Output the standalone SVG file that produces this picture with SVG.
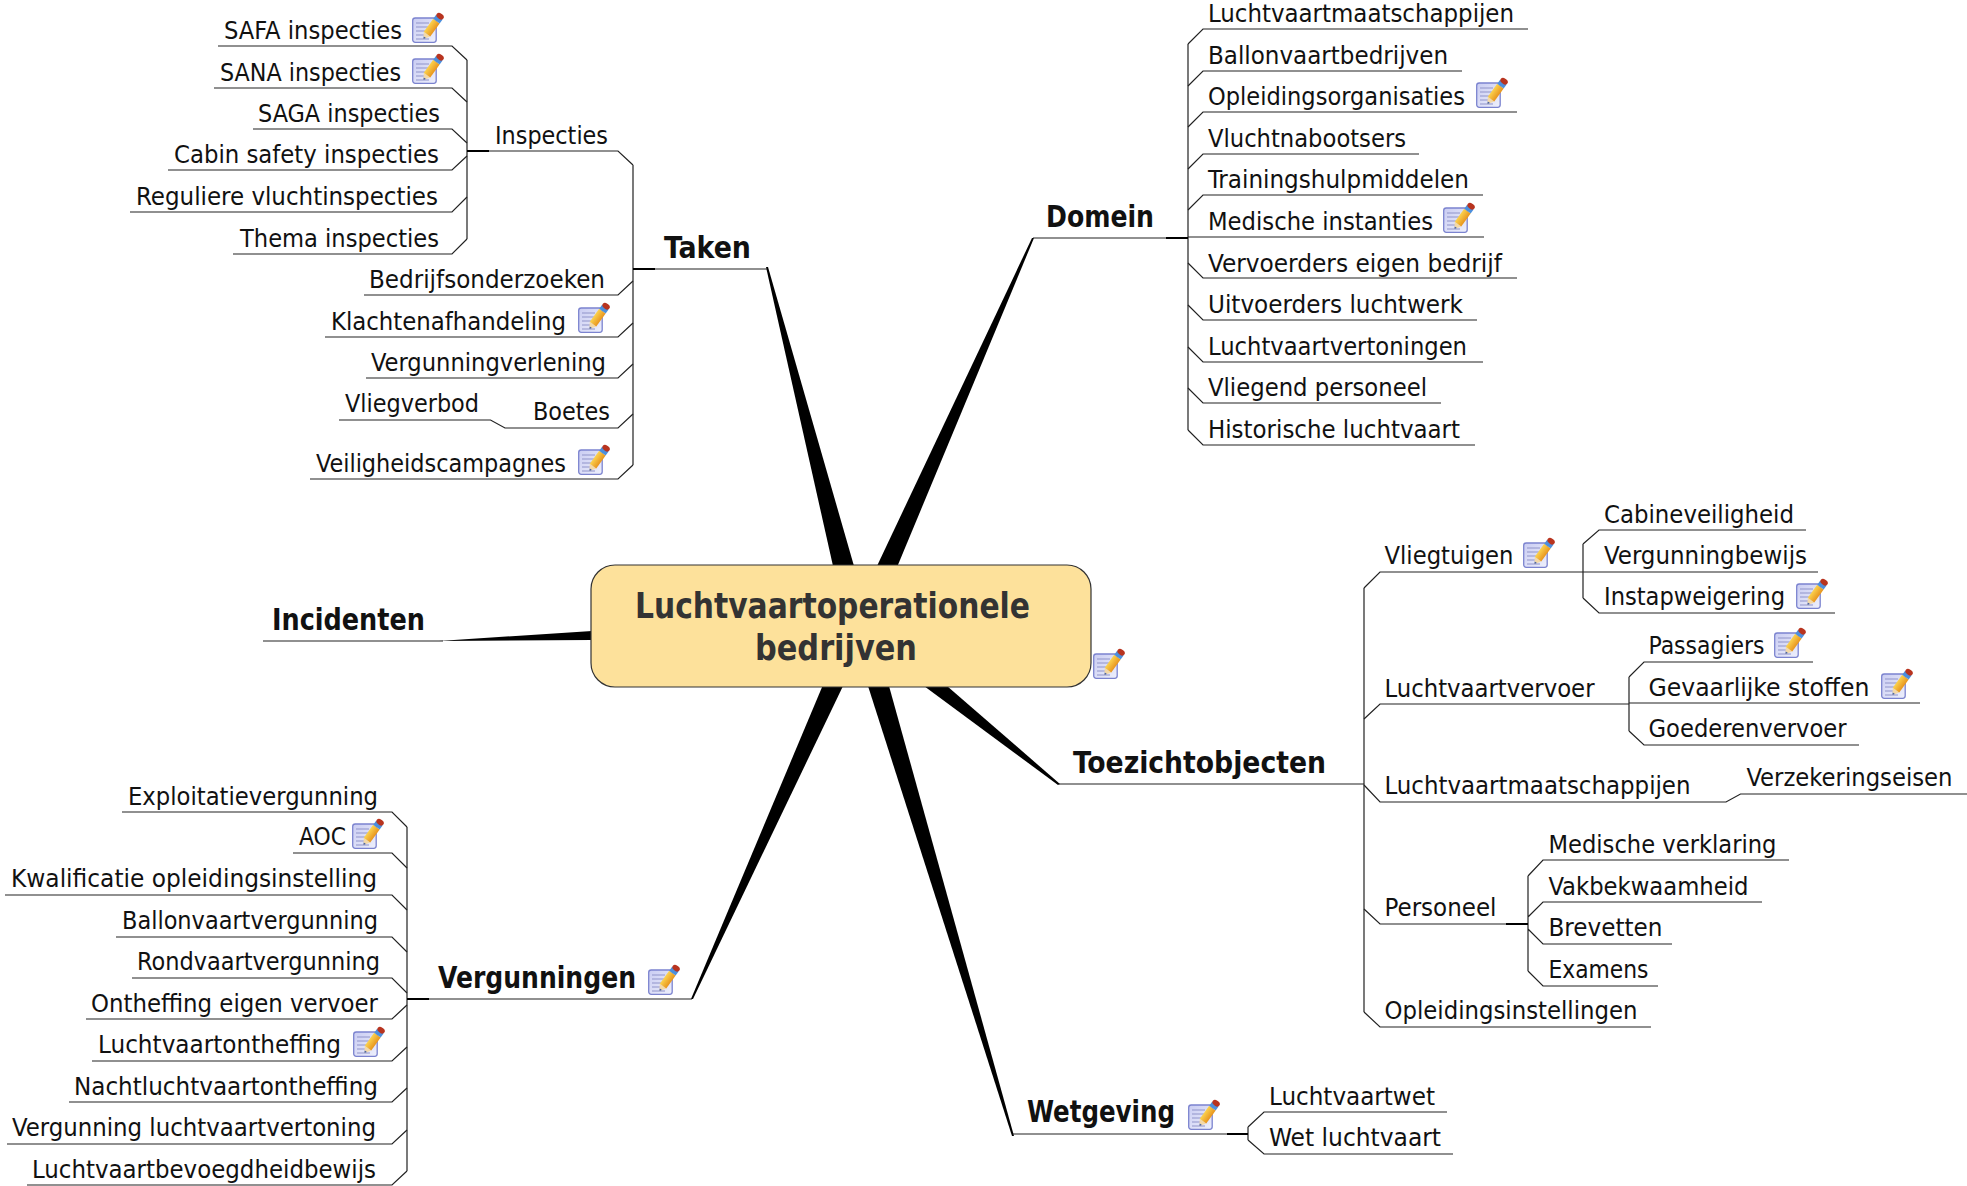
<svg xmlns="http://www.w3.org/2000/svg" width="1967" height="1186" viewBox="0 0 1967 1186">
<style>
text{font-family:"DejaVu Sans","Liberation Sans",sans-serif;font-stretch:condensed;fill:#111}
.r{font-size:25px}
.b{font-size:30.5px;font-weight:bold}
.m{font-size:36px;font-weight:bold;fill:#333}
.c{fill:none;stroke:#222;stroke-width:1.2}
.k{fill:none;stroke:#000;stroke-width:2}
.s{fill:#000;stroke:none}
.box{fill:#fde19b;stroke:#333;stroke-width:1.2}
</style>
<defs>
<linearGradient id="docg" x1="0" y1="0" x2="1" y2="1"><stop offset="0" stop-color="#c9ccf2"/><stop offset="1" stop-color="#eef0fc"/></linearGradient>
<linearGradient id="peng" x1="0" y1="0" x2="1" y2="0"><stop offset="0" stop-color="#fbd24e"/><stop offset="1" stop-color="#e8951e"/></linearGradient>
<symbol id="note" width="33" height="31" viewBox="0 0 33 31">
<rect x="0.7" y="6" width="23.5" height="24.3" rx="2.5" fill="url(#docg)" stroke="#7b83cf" stroke-width="1.3"/>
<path d="M4 11H17M4 15H16M4 19H14M4 23H13M4 27H17" fill="none" stroke="#8f94c9" stroke-width="1.2"/>
<g transform="translate(11.5 27) rotate(36)">
<polygon points="0,0 -4,-6 4,-6" fill="#f3d9a8"/>
<polygon points="0,0 -1.4,-2.2 1.4,-2.2" fill="#3a5aa8"/>
<rect x="-4" y="-22" width="8" height="16" fill="url(#peng)"/>
<rect x="-4" y="-27" width="8" height="5" fill="#4c8fdc"/>
<rect x="-4" y="-31" width="8" height="5.5" rx="3.5" fill="#b8341f"/>
</g>
</symbol>
</defs>
<rect width="1967" height="1186" fill="#fff"/>
<g id="connectors">
<polygon class="s" points="766,267 768,267 854,566 833,566"/>
<polygon class="s" points="1032,238 1034,238 897.5,566 877,566"/>
<polygon class="s" points="439,641 592,631 592,640"/>
<polygon class="s" points="691,999 693,999 843,686 822.5,686"/>
<polygon class="s" points="1012,1136 1014,1136 889,686 868,686"/>
<polygon class="s" points="1058,785 1060,784 947,686 924,686"/>
<path class="c" d="M767 269H633M633 165V465M467 151H618L633 165M467 60V239"/>
<path class="k" d="M633 269H655M467 151H489"/>
<path class="c" d="M218 46H452L467 60M214 88H452L467 102M253 129H452L467 143M168 170H452L467 156M130 212H452L467 197M233 254H452L467 239"/>
<path class="c" d="M364 295H618L633 281M325 337H618L633 323M366 378H618L633 364M339 420H490.5L505 428H618L633 414M310 479H618L633 465"/>
<path class="c" d="M1033 238H1188M1188 44V430"/>
<path class="k" d="M1166 238H1188"/>
<path class="c" d="M1528 29H1203L1188 44M1462 71H1203L1188 86M1517 112H1203L1188 127M1419 154H1203L1188 169M1483 195H1203L1188 210M1484 237H1188M1517 278H1203L1188 263M1477 320H1203L1188 305M1483 362H1203L1188 347M1441 403H1203L1188 388M1475 445H1203L1188 430"/>
<path class="c" d="M263 641H443"/>
<path class="c" d="M692 999H407M407 827V1171"/>
<path class="k" d="M407 999H429"/>
<path class="c" d="M122 812H392L407 827M293 853H392L407 868M5 895H392L407 910M116 937H392L407 952M132 978H392L407 993M86 1019H392L407 1005M92 1061H392L407 1047M69 1102H392L407 1088M7 1144H392L407 1130M27 1185H392L407 1171"/>
<path class="c" d="M1013 1134H1248M1248 1127V1140M1447 1112H1264L1248 1127M1453 1154H1264L1248 1140"/>
<path class="k" d="M1227 1134H1248"/>
<path class="c" d="M1059 784H1364M1364 588V1012"/>
<path class="c" d="M1364 588L1380 572H1583M1583 544V598M1806 530H1599L1583 544M1818 572H1583M1835 613H1599L1583 598"/>
<path class="c" d="M1364 719L1380 704H1629M1629 677V731M1813 662H1644L1629 677M1920 703H1629M1859 745H1644L1629 731"/>
<path class="c" d="M1364 785L1380 802H1726L1740.5 794H1967"/>
<path class="c" d="M1364 909L1380 924H1528M1528 876V971M1789 860H1543L1528 876M1762 902H1543L1528 917M1672 944H1543L1528 929M1658 986H1543L1528 971"/>
<path class="k" d="M1506 924H1528"/>
<path class="c" d="M1364 1012L1380 1027H1651"/>
</g>
<g id="root">
<rect class="box" x="591" y="565" width="500" height="122" rx="24"/>
<text class="m" x="635" y="618" textLength="395" lengthAdjust="spacingAndGlyphs">Luchtvaartoperationele</text>
<text class="m" x="755" y="660" textLength="162" lengthAdjust="spacingAndGlyphs">bedrijven</text>
<use href="#note" x="1093" y="648"/>
</g>
<g id="taken"><text class="b" x="664" y="258" textLength="87" lengthAdjust="spacingAndGlyphs">Taken</text></g>
<g id="inspecties"><text class="r" x="495" y="144" textLength="113" lengthAdjust="spacingAndGlyphs">Inspecties</text></g>
<g id="safa"><text class="r" x="224" y="39" textLength="178" lengthAdjust="spacingAndGlyphs">SAFA inspecties</text><use href="#note" x="412" y="12"/></g>
<g id="sana"><text class="r" x="220" y="81" textLength="181" lengthAdjust="spacingAndGlyphs">SANA inspecties</text><use href="#note" x="412" y="53"/></g>
<g id="saga"><text class="r" x="258" y="122" textLength="182" lengthAdjust="spacingAndGlyphs">SAGA inspecties</text></g>
<g id="cabin"><text class="r" x="174" y="163" textLength="265" lengthAdjust="spacingAndGlyphs">Cabin safety inspecties</text></g>
<g id="regulier"><text class="r" x="136" y="205" textLength="302" lengthAdjust="spacingAndGlyphs">Reguliere vluchtinspecties</text></g>
<g id="thema"><text class="r" x="240" y="247" textLength="199" lengthAdjust="spacingAndGlyphs">Thema inspecties</text></g>
<g id="bedrijfsonderzoeken"><text class="r" x="369" y="288" textLength="236" lengthAdjust="spacingAndGlyphs">Bedrijfsonderzoeken</text></g>
<g id="klachten"><text class="r" x="331" y="330" textLength="235" lengthAdjust="spacingAndGlyphs">Klachtenafhandeling</text><use href="#note" x="578" y="302"/></g>
<g id="vergunningverlening"><text class="r" x="371" y="371" textLength="235" lengthAdjust="spacingAndGlyphs">Vergunningverlening</text></g>
<g id="vliegverbod"><text class="r" x="345" y="412" textLength="134" lengthAdjust="spacingAndGlyphs">Vliegverbod</text></g>
<g id="boetes"><text class="r" x="533" y="420" textLength="77" lengthAdjust="spacingAndGlyphs">Boetes</text></g>
<g id="veiligheid"><text class="r" x="316" y="472" textLength="250" lengthAdjust="spacingAndGlyphs">Veiligheidscampagnes</text><use href="#note" x="578" y="444"/></g>
<g id="domein"><text class="b" x="1046" y="227" textLength="108" lengthAdjust="spacingAndGlyphs">Domein</text></g>
<g id="d1"><text class="r" x="1208" y="22" textLength="306" lengthAdjust="spacingAndGlyphs">Luchtvaartmaatschappijen</text></g>
<g id="d2"><text class="r" x="1208" y="64" textLength="240" lengthAdjust="spacingAndGlyphs">Ballonvaartbedrijven</text></g>
<g id="d3"><text class="r" x="1208" y="105" textLength="257" lengthAdjust="spacingAndGlyphs">Opleidingsorganisaties</text><use href="#note" x="1476" y="77"/></g>
<g id="d4"><text class="r" x="1208" y="147" textLength="198" lengthAdjust="spacingAndGlyphs">Vluchtnabootsers</text></g>
<g id="d5"><text class="r" x="1208" y="188" textLength="261" lengthAdjust="spacingAndGlyphs">Trainingshulpmiddelen</text></g>
<g id="d6"><text class="r" x="1208" y="230" textLength="225" lengthAdjust="spacingAndGlyphs">Medische instanties</text><use href="#note" x="1443" y="202"/></g>
<g id="d7"><text class="r" x="1208" y="272" textLength="294" lengthAdjust="spacingAndGlyphs">Vervoerders eigen bedrijf</text></g>
<g id="d8"><text class="r" x="1208" y="313" textLength="255" lengthAdjust="spacingAndGlyphs">Uitvoerders luchtwerk</text></g>
<g id="d9"><text class="r" x="1208" y="355" textLength="259" lengthAdjust="spacingAndGlyphs">Luchtvaartvertoningen</text></g>
<g id="d10"><text class="r" x="1208" y="396" textLength="219" lengthAdjust="spacingAndGlyphs">Vliegend personeel</text></g>
<g id="d11"><text class="r" x="1208" y="438" textLength="252" lengthAdjust="spacingAndGlyphs">Historische luchtvaart</text></g>
<g id="incidenten"><text class="b" x="272" y="630" textLength="153" lengthAdjust="spacingAndGlyphs">Incidenten</text></g>
<g id="vergunningen"><text class="b" x="438" y="988" textLength="198" lengthAdjust="spacingAndGlyphs">Vergunningen</text><use href="#note" x="648" y="964"/></g>
<g id="v1"><text class="r" x="128" y="805" textLength="250" lengthAdjust="spacingAndGlyphs">Exploitatievergunning</text></g>
<g id="v2"><text class="r" x="299" y="845" textLength="47" lengthAdjust="spacingAndGlyphs">AOC</text><use href="#note" x="352" y="818"/></g>
<g id="v3"><text class="r" x="11" y="887" textLength="366" lengthAdjust="spacingAndGlyphs">Kwalificatie opleidingsinstelling</text></g>
<g id="v4"><text class="r" x="122" y="929" textLength="256" lengthAdjust="spacingAndGlyphs">Ballonvaartvergunning</text></g>
<g id="v5"><text class="r" x="137" y="970" textLength="243" lengthAdjust="spacingAndGlyphs">Rondvaartvergunning</text></g>
<g id="v6"><text class="r" x="91" y="1012" textLength="287" lengthAdjust="spacingAndGlyphs">Ontheffing eigen vervoer</text></g>
<g id="v7"><text class="r" x="98" y="1053" textLength="243" lengthAdjust="spacingAndGlyphs">Luchtvaartontheffing</text><use href="#note" x="353" y="1026"/></g>
<g id="v8"><text class="r" x="74" y="1095" textLength="304" lengthAdjust="spacingAndGlyphs">Nachtluchtvaartontheffing</text></g>
<g id="v9"><text class="r" x="12" y="1136" textLength="364" lengthAdjust="spacingAndGlyphs">Vergunning luchtvaartvertoning</text></g>
<g id="v10"><text class="r" x="32" y="1178" textLength="344" lengthAdjust="spacingAndGlyphs">Luchtvaartbevoegdheidbewijs</text></g>
<g id="wetgeving"><text class="b" x="1027" y="1122" textLength="148" lengthAdjust="spacingAndGlyphs">Wetgeving</text><use href="#note" x="1188" y="1099"/></g>
<g id="w1"><text class="r" x="1269" y="1105" textLength="166" lengthAdjust="spacingAndGlyphs">Luchtvaartwet</text></g>
<g id="w2"><text class="r" x="1269" y="1146" textLength="172" lengthAdjust="spacingAndGlyphs">Wet luchtvaart</text></g>
<g id="toezicht"><text class="b" x="1073" y="773" textLength="253" lengthAdjust="spacingAndGlyphs">Toezichtobjecten</text></g>
<g id="vliegtuigen"><text class="r" x="1384.5" y="564" textLength="129" lengthAdjust="spacingAndGlyphs">Vliegtuigen</text><use href="#note" x="1523" y="537"/></g>
<g id="t1"><text class="r" x="1604" y="523" textLength="190" lengthAdjust="spacingAndGlyphs">Cabineveiligheid</text></g>
<g id="t2"><text class="r" x="1604" y="564" textLength="203" lengthAdjust="spacingAndGlyphs">Vergunningbewijs</text></g>
<g id="t3"><text class="r" x="1604" y="605" textLength="181" lengthAdjust="spacingAndGlyphs">Instapweigering</text><use href="#note" x="1796" y="578"/></g>
<g id="vervoer"><text class="r" x="1384.5" y="697" textLength="210" lengthAdjust="spacingAndGlyphs">Luchtvaartvervoer</text></g>
<g id="t4"><text class="r" x="1648.5" y="654" textLength="116" lengthAdjust="spacingAndGlyphs">Passagiers</text><use href="#note" x="1774" y="627"/></g>
<g id="t5"><text class="r" x="1648.5" y="696" textLength="221" lengthAdjust="spacingAndGlyphs">Gevaarlijke stoffen</text><use href="#note" x="1881" y="668"/></g>
<g id="t6"><text class="r" x="1648.5" y="737" textLength="198" lengthAdjust="spacingAndGlyphs">Goederenvervoer</text></g>
<g id="maatschappijen"><text class="r" x="1384.5" y="794" textLength="306" lengthAdjust="spacingAndGlyphs">Luchtvaartmaatschappijen</text></g>
<g id="verzekering"><text class="r" x="1746.5" y="786" textLength="206" lengthAdjust="spacingAndGlyphs">Verzekeringseisen</text></g>
<g id="personeel"><text class="r" x="1384.5" y="916" textLength="112" lengthAdjust="spacingAndGlyphs">Personeel</text></g>
<g id="p1"><text class="r" x="1548.5" y="853" textLength="228" lengthAdjust="spacingAndGlyphs">Medische verklaring</text></g>
<g id="p2"><text class="r" x="1548.5" y="895" textLength="200" lengthAdjust="spacingAndGlyphs">Vakbekwaamheid</text></g>
<g id="p3"><text class="r" x="1548.5" y="936" textLength="114" lengthAdjust="spacingAndGlyphs">Brevetten</text></g>
<g id="p4"><text class="r" x="1548.5" y="978" textLength="100" lengthAdjust="spacingAndGlyphs">Examens</text></g>
<g id="opleiding"><text class="r" x="1384.5" y="1019" textLength="253" lengthAdjust="spacingAndGlyphs">Opleidingsinstellingen</text></g>
</svg>
